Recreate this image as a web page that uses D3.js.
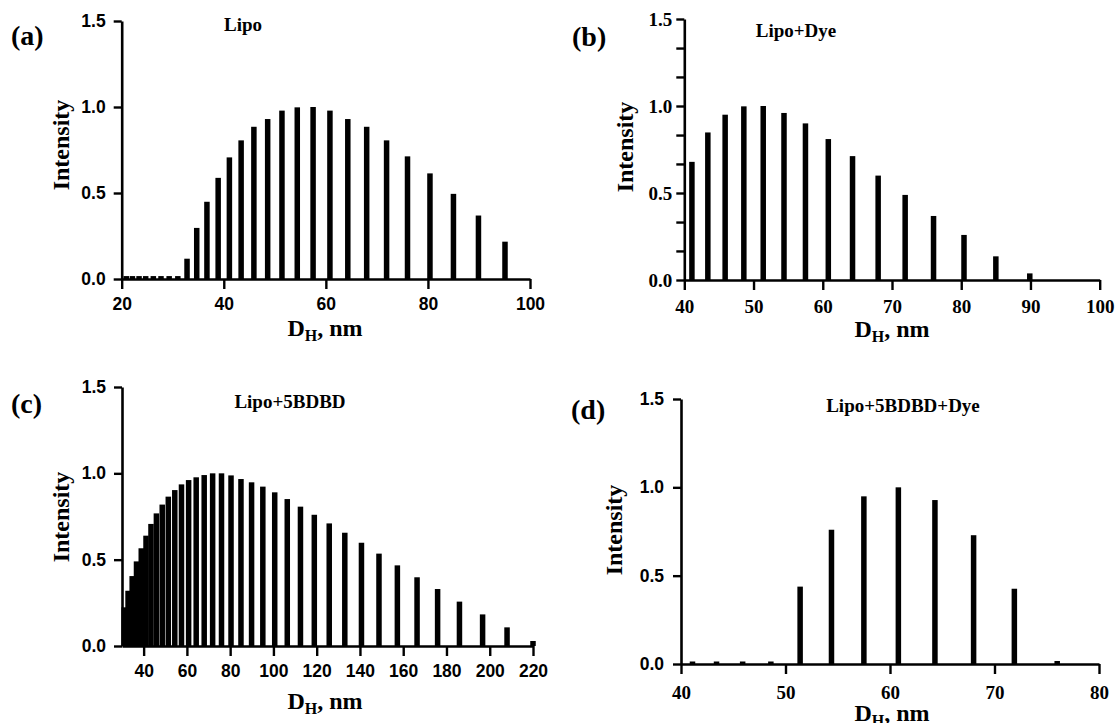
<!DOCTYPE html>
<html>
<head>
<meta charset="utf-8">
<script src="https://cdn.jsdelivr.net/npm/d3@7/dist/d3.min.js"></script>
<style>
    body { margin: 0; background: #ffffff; }
    svg { display: block; }
</style>
</head>
<body>
<svg id="sketchbook"></svg>
<script>
// DLS size distributions (normalised intensity)
const lipoSize = [20.9, 22.1, 23.4, 24.7, 26.2, 27.7, 29.3, 31.0, 32.8, 34.7, 36.7, 38.9, 41.1, 43.4,
                  45.9, 48.6, 51.4, 54.4, 57.5, 60.8, 64.3, 68.0, 71.9, 76.0, 80.4, 85.0, 89.9, 95.1];
const lipoIntensity = [0.017, 0.017, 0.017, 0.017, 0.017, 0.017, 0.017, 0.017, 0.118, 0.297, 0.449, 0.588, 0.707, 0.806,
                       0.885, 0.930, 0.979, 0.998, 1.0, 0.979, 0.930, 0.885, 0.806, 0.713, 0.614, 0.495, 0.369, 0.217];

const dyeSize = [41.1, 43.4, 45.9, 48.6, 51.4, 54.4, 57.5, 60.8, 64.3, 68.0, 71.9, 76.0, 80.4, 85.0, 89.9];
const dyeIntensity = [0.679, 0.848, 0.950, 0.998, 1.0, 0.960, 0.900, 0.810, 0.712, 0.600, 0.489, 0.368, 0.259, 0.136, 0.038];

const bdbdSize = [31.0, 32.8, 34.7, 36.7, 38.9, 41.1, 43.4, 45.9, 48.6, 51.4, 54.4, 57.5, 60.8, 64.3, 68.0, 71.9,
                  76.0, 80.4, 85.0, 89.9, 95.1, 100.6, 106.4, 112.5, 118.9, 125.8, 133.0, 140.7, 148.8, 157.3,
                  166.4, 175.9, 186.0, 196.7, 208.0, 220.0];
const bdbdIntensity = [0.224, 0.320, 0.405, 0.490, 0.566, 0.639, 0.707, 0.768, 0.819, 0.865, 0.903, 0.936, 0.961, 0.977, 0.990, 1.0,
                       1.0, 0.988, 0.967, 0.948, 0.923, 0.890, 0.851, 0.807, 0.760, 0.710, 0.656, 0.598, 0.535, 0.467,
                       0.398, 0.330, 0.257, 0.183, 0.108, 0.029];

const bdbdDyeSize = [41.1, 43.4, 45.9, 48.6, 51.4, 54.4, 57.5, 60.8, 64.3, 68.0, 71.9, 76.0];
const bdbdDyeIntensity = [0.009, 0.009, 0.009, 0.009, 0.438, 0.760, 0.949, 1.0, 0.928, 0.729, 0.426, 0.017];

const yTicks = [0, 0.5, 1.0, 1.5];
const yMinorTicksB = [0.167, 0.333, 0.667, 0.833, 1.167, 1.333];
const xTicksA = [20, 40, 60, 80, 100];
const xTicksB = [40, 50, 60, 70, 80, 90, 100];
const xTicksC = [40, 60, 80, 100, 120, 140, 160, 180, 200, 220];
const xTicksD = [40, 50, 60, 70, 80];

const titles = ['Lipo', 'Lipo+Dye', 'Lipo+5BDBD', 'Lipo+5BDBD+Dye'];
const panelTags = ['(a)', '(b)', '(c)', '(d)'];

const SERIF = '"Liberation Serif", "Times New Roman", serif';
const SANS = '"Liberation Sans", Arial, sans-serif';

function makePanels () {
    return [
        { code: 'a', size: lipoSize, value: lipoIntensity, xDomain: [20, 100], xTicks: xTicksA,
          left: 121.7, right: 530, top: 21, bottom: 279,
          xFont: SANS, yFont: SANS, xPad: 9, yPad: 8,
          tag: [11, 45], title: [243, 31], ylab: [69, 145], xlab: [325, 336] },
        { code: 'b', size: dyeSize, value: dyeIntensity, xDomain: [40, 100], xTicks: xTicksB,
          left: 684.3, right: 1099.7, top: 19, bottom: 280, minor: yMinorTicksB,
          xFont: SERIF, yFont: SERIF, xPad: 10, yPad: 4,
          tag: [572, 46], title: [796, 37], ylab: [633, 147], xlab: [892, 337] },
        { code: 'c', size: bdbdSize, value: bdbdIntensity, xDomain: [30, 220], xTicks: xTicksC,
          left: 122, right: 533, top: 387, bottom: 646,
          xFont: SANS, yFont: SANS, xPad: 9, yPad: 8,
          tag: [11, 413], title: [290, 408], ylab: [69, 517], xlab: [325, 709] },
        { code: 'd', size: bdbdDyeSize, value: bdbdDyeIntensity, xDomain: [40, 80], xTicks: xTicksD,
          left: 681, right: 1099, top: 399, bottom: 664,
          xFont: SERIF, yFont: SANS, xPad: 12, yPad: 9,
          tag: [571, 419], title: [903, 412], ylab: [622, 530], xlab: [892, 721] },
    ];
}

function styleAxis (sel, font, size) {
    sel.select('.domain').attr('stroke', '#000').attr('stroke-width', 2.6);
    sel.selectAll('.tick line').attr('stroke', '#000').attr('stroke-width', 2.4);
    sel.selectAll('.tick text')
        .attr('fill', '#000')
        .style('font-family', font)
        .style('font-weight', 'bold')
        .style('font-size', size + 'px');
}

function drawPanel (svg, p, i) {
    let g = svg.append('g').attr('class', 'panel ' + p.code);
    let x = d3.scaleLinear().domain(p.xDomain).range([p.left, p.right]);
    let y = d3.scaleLinear().domain([0, 1.5]).range([p.bottom, p.top]);
    let barW = 5.5;
    let minH = 2.5;

    let data = p.size.map((s, k) => { return { s: s, v: p.value[k] }; });

    g.selectAll('rect.bar')
        .data(data)
        .enter()
        .append('rect')
        .attr('class', 'bar')
        .attr('x', (d) => { return x(d.s) - barW / 2; })
        .attr('y', (d) => { return Math.min(y(d.v), p.bottom - minH); })
        .attr('width', barW)
        .attr('height', (d) => { return Math.max(p.bottom - y(d.v), minH); })
        .attr('fill', '#000');

    let xSize = p.xFont === SERIF ? 19 : 17.5;
    let ySize = p.yFont === SERIF ? 19 : 17.5;

    let gx = g.append('g')
        .attr('transform', 'translate(0,' + p.bottom + ')')
        .call(d3.axisBottom(x).tickValues(p.xTicks).tickSize(10).tickSizeOuter(0)
              .tickPadding(p.xPad).tickFormat(d3.format('d')));
    styleAxis(gx, p.xFont, xSize);

    let gy = g.append('g')
        .attr('transform', 'translate(' + p.left + ',0)')
        .call(d3.axisLeft(y).tickValues(yTicks).tickSize(8).tickSizeOuter(0)
              .tickPadding(p.yPad).tickFormat(d3.format('.1f')));
    styleAxis(gy, p.yFont, ySize);

    if (p.minor) {
        let gm = g.append('g')
            .attr('transform', 'translate(' + p.left + ',0)')
            .call(d3.axisLeft(y).tickValues(p.minor).tickSize(8).tickFormat(''));
        gm.select('.domain').remove();
        gm.selectAll('.tick line').attr('stroke', '#000').attr('stroke-width', 2.4);
    }

    // panel tag, title, axis titles
    g.append('text')
        .attr('x', p.tag[0]).attr('y', p.tag[1])
        .style('font-family', SERIF).style('font-weight', 'bold').style('font-size', '28px')
        .text(panelTags[i]);

    g.append('text')
        .attr('x', p.title[0]).attr('y', p.title[1])
        .attr('text-anchor', 'middle')
        .style('font-family', SERIF).style('font-weight', 'bold').style('font-size', '19px')
        .text(titles[i]);

    g.append('text')
        .attr('transform', 'translate(' + p.ylab[0] + ',' + p.ylab[1] + ') rotate(-90)')
        .attr('text-anchor', 'middle')
        .style('font-family', SERIF).style('font-weight', 'bold').style('font-size', '24px')
        .text('Intensity');

    let xl = g.append('text')
        .attr('x', p.xlab[0]).attr('y', p.xlab[1])
        .attr('text-anchor', 'middle')
        .style('font-family', SERIF).style('font-weight', 'bold').style('font-size', '24px');
    xl.append('tspan').text('D');
    xl.append('tspan').attr('dy', 5).style('font-size', '16px').text('H');
    xl.append('tspan').attr('dy', -5).text(', nm');
}

function makeChart () {
    let w = 1118;
    let h = 723;
    let svg = d3.select('#sketchbook').attr('width', w).attr('height', h);
    svg.append('rect').attr('width', w).attr('height', h).attr('fill', '#ffffff');

    makePanels().forEach((p, i) => { drawPanel(svg, p, i); });
}

makeChart();
</script>
</body>
</html>
